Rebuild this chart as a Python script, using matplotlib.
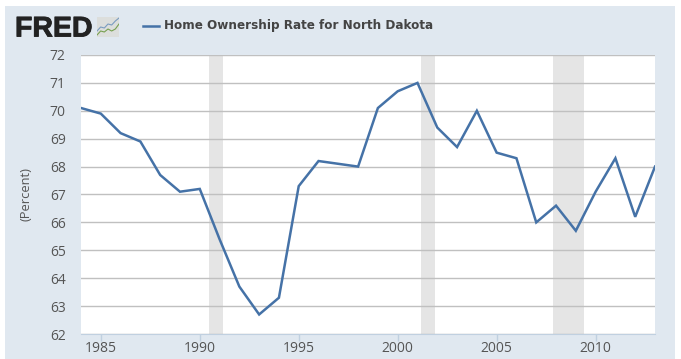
import matplotlib
matplotlib.use("Agg")
import matplotlib.pyplot as plt
import matplotlib.patheffects as pe
from matplotlib.patches import Rectangle

years = list(range(1984, 2014))
rate = [70.1, 69.9, 69.2, 68.9, 67.7, 67.1, 67.2, 65.4, 63.7, 62.7,
        63.3, 67.3, 68.2, 68.1, 68.0, 70.1, 70.7, 71.0, 69.4, 68.7,
        70.0, 68.5, 68.3, 66.0, 66.6, 65.7, 67.1, 68.3, 66.2, 68.0]
recessions = [(1990.47, 1991.17), (2001.17, 2001.87), (2007.87, 2009.42)]
y_ticks = list(range(62, 73))
x_ticks = [1985, 1990, 1995, 2000, 2005, 2010]
series_name = "Home Ownership Rate for North Dakota"

# icon next to the logo
icon_blue = [3, 5, 4.5, 6.5, 6, 8, 9.5]
icon_green = [1, 3, 2.5, 4, 3, 4, 6.5]

W, H = 681, 359
BG = "#e0e8f0"
LINE = "#4572a7"
TXT = "#555555"
FONT = "Open Sans"

fig = plt.figure(figsize=(W / 100, H / 100), dpi=100, facecolor="white")
# blue-grey panel behind everything
fig.add_artist(Rectangle((5 / W, 0), 670 / W, 353 / H, transform=fig.transFigure,
                         facecolor=BG, edgecolor="none", zorder=-5))

ax = fig.add_axes([81 / W, (H - 334) / H, 574 / W, 279 / H])
ax.set_xlim(1984, 2013)
ax.set_ylim(62, 72)
ax.set_facecolor("white")

for start, end in recessions:
    ax.axvspan(start, end, color="#e5e5e5", lw=0, zorder=1)
ax.grid(axis="y", color="#c0c0c0", lw=1, zorder=2)
ax.plot(years, rate, color=LINE, lw=1.8, zorder=3, solid_joinstyle="miter")

ax.set_yticks(y_ticks)
ax.set_xticks(x_ticks)
ax.tick_params(axis="y", length=0, pad=11, labelsize=10, labelcolor=TXT)
ax.tick_params(axis="x", length=5, width=1, color="#c0d0e0", pad=0, labelsize=10, labelcolor=TXT)
for lab in ax.get_xticklabels() + ax.get_yticklabels():
    lab.set_family(FONT)
for side in ["top", "left", "right"]:
    ax.spines[side].set_visible(False)
ax.spines["bottom"].set_color("#c0d0e0")
fig.text(26 / W, (H - 194) / H, "(Percent)", rotation=90, family=FONT, fontsize=9.3,
         color=TXT, ha="center", va="center")

# header
logo = fig.text(15 / W, (H - 36.5) / H, "FRED", family="Liberation Sans", weight="bold",
                fontsize=20.5, color="#222222", va="baseline")
logo.set_path_effects([pe.withStroke(linewidth=0.6, foreground="#222222")])
fig.text(164 / W, (H - 29) / H, series_name, fontsize=8.65, weight="bold", color="#444444", va="baseline")
fig.add_artist(plt.Line2D([143 / W, 159 / W], [(H - 25.5) / H] * 2, color=LINE, lw=1.8))

icon = fig.add_axes([97 / W, (H - 37) / H, 22 / W, 20 / H])
icon.set_facecolor("#dcdedc")
icon.plot(icon_blue, color="#7a9cc0", lw=0.8)
icon.plot(icon_green, color="#77a050", lw=0.8)
icon.set_xlim(0, 6)
icon.set_ylim(0, 10)
icon.set_xticks([])
icon.set_yticks([])
for s in icon.spines.values():
    s.set_visible(False)

fig.savefig("out.png", dpi=100, facecolor="white")
